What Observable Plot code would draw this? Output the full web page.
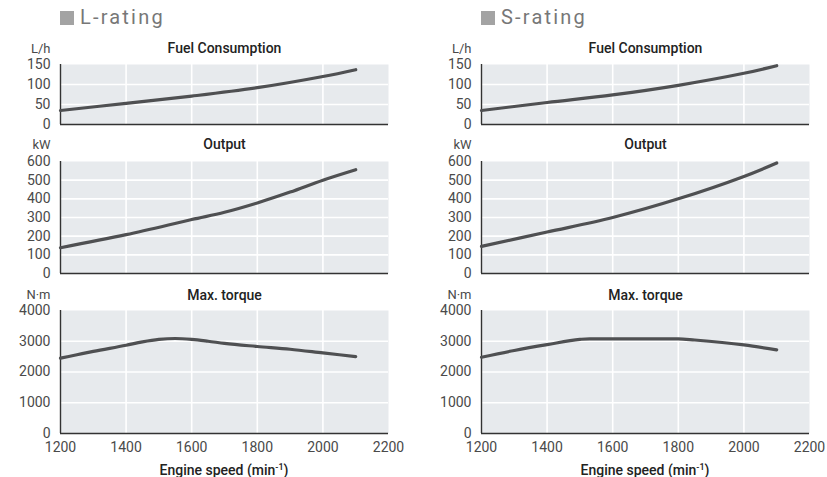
<!DOCTYPE html>
<html><head><meta charset="utf-8">
<script src="https://cdn.jsdelivr.net/npm/d3@7"></script>
<script src="https://cdn.jsdelivr.net/npm/@observablehq/plot@0.6"></script>
<style>
body{margin:0;background:#fff;}
#root{position:relative;width:827px;height:477px;overflow:hidden;font-family:Roboto, sans-serif;}
.abs{position:absolute;}
.rating{font-size:20px;letter-spacing:2.2px;color:#777;line-height:24px;white-space:nowrap;}
.sq{display:inline-block;width:14px;height:14px;background:#a3a3a3;margin-right:6px;vertical-align:-1px;}
.xlab{font-size:14px;font-weight:500;color:#222;text-align:center;line-height:18px;white-space:nowrap;}
.xlab sup{font-size:9px;vertical-align:5px;line-height:0;}
</style></head><body><div id="root"></div>
<script>
// ---- data ----
const ratings = ["L-rating", "S-rating"];
const panelTitles = ["Fuel Consumption", "Output", "Max. torque"];
const units = ["L/h", "kW", "N·m"];
const rpmTicks = [1200, 1400, 1600, 1800, 2000, 2200];
const fuelTicks = [0, 50, 100, 150];
const outputTicks = [0, 100, 200, 300, 400, 500, 600];
const torqueTicks = [0, 1000, 2000, 3000, 4000];
const xAxisLabel = "Engine speed (min";

const fuelRpmL = [1200, 1400, 1600, 1800, 2000, 2100];
const fuelL = [35, 53, 71, 92, 120, 137];
const outputRpmL = [1200, 1400, 1600, 1700, 1800, 1900, 2000, 2100];
const outputL = [138, 208, 289, 328, 378, 436, 500, 556];
const torqueRpmL = [1200, 1250, 1300, 1400, 1450, 1500, 1550, 1600, 1650, 1700, 1800, 1900, 2000, 2100];
const torqueL = [2450, 2560, 2670, 2870, 2980, 3060, 3090, 3060, 3000, 2930, 2830, 2740, 2620, 2500];

const fuelRpmS = [1200, 1400, 1600, 1800, 2000, 2100];
const fuelS = [35, 55, 74, 98, 128, 147];
const outputRpmS = [1200, 1400, 1600, 1800, 2000, 2100];
const outputS = [145, 222, 300, 400, 520, 592];
const torqueRpmS = [1200, 1300, 1400, 1500, 1530, 1800, 1850, 2000, 2100];
const torqueS = [2480, 2700, 2890, 3060, 3080, 3080, 3040, 2880, 2720];

// ---- layout ----
const root = document.getElementById("root");
const cols = [
  {left: 0, width: 413, ml: 60, mr: 25},
  {left: 420, width: 407, ml: 61, mr: 18}
];
const rows = [
  {top: 40, mt: 24, ph: 60, mb: 10, ticks: fuelTicks, dom: [0, 150], tdy: -16, udy: -16, curve: "catmull-rom"},
  {top: 130, mt: 31, ph: 112, mb: 10, ticks: outputTicks, dom: [0, 600], tdy: -17, udy: -17, curve: "catmull-rom"},
  {top: 280, mt: 30, ph: 123, mb: 44, ticks: torqueTicks, dom: [0, 4000], tdy: -15, udy: -15.5, curve: "monotone-x"}
];
const series = [
  [[fuelRpmL, fuelL], [outputRpmL, outputL], [torqueRpmL, torqueL]],
  [[fuelRpmS, fuelS], [outputRpmS, outputS], [torqueRpmS, torqueS]]
];

cols.forEach((c, ci) => {
  const t = document.createElement("div");
  t.className = "abs rating";
  t.style.left = (c.left + c.ml) + "px";
  t.style.top = "5px";
  t.innerHTML = '<span class="sq"></span>' + ratings[ci];
  root.appendChild(t);

  rows.forEach((r, ri) => {
    const [xs, ys] = series[ci][ri];
    const data = xs.map((x, i) => ({x, y: ys[i]}));
    const isBottom = ri === 2;
    const chart = Plot.plot({
      width: c.width,
      height: r.mt + r.ph + r.mb,
      marginLeft: c.ml, marginRight: c.mr, marginTop: r.mt, marginBottom: r.mb,
      style: {fontFamily: "Roboto, sans-serif", fontSize: "14px", color: "#4a4a4a", background: "transparent", overflow: "visible"},
      x: {domain: [1200, 2200], ticks: rpmTicks, axis: isBottom ? "bottom" : null, tickSize: 0, tickPadding: 9, tickFormat: d => String(d), label: null},
      y: {domain: r.dom, ticks: r.ticks, tickSize: 0, tickPadding: 10, tickFormat: d => String(d), label: null},
      marks: [
        Plot.frame({fill: "#e7eaed", stroke: null}),
        Plot.gridX(rpmTicks.slice(1, -1), {stroke: "#fff", strokeOpacity: 1, strokeWidth: 1.6}),
        Plot.gridY(r.ticks.slice(1, -1), {stroke: "#fff", strokeOpacity: 1, strokeWidth: 1.6}),
        Plot.ruleY([r.dom[0]], {stroke: "#333", strokeWidth: 1.4}),
        Plot.ruleX([1200], {stroke: "#333", strokeWidth: 1.4}),
        Plot.line(data, {x: "x", y: "y", stroke: "#4f5052", strokeWidth: 3.2, curve: r.curve}),
        Plot.text([panelTitles[ri]], {frameAnchor: "top", lineAnchor: "middle", dy: r.tdy, fontSize: 14, fontWeight: 500, fill: "#222"}),
        Plot.text([units[ri]], {frameAnchor: "top-left", lineAnchor: "middle", textAnchor: "end", dx: -10, dy: r.udy, fontSize: 13, fill: "#4a4a4a"})
      ]
    });
    chart.style.position = "absolute";
    chart.style.left = c.left + "px";
    chart.style.top = r.top + "px";
    root.appendChild(chart);
  });

  const xl = document.createElement("div");
  xl.className = "abs xlab";
  xl.style.left = (c.left + c.ml) + "px";
  xl.style.width = (c.width - c.ml - c.mr) + "px";
  xl.style.top = "461px";
  xl.innerHTML = xAxisLabel + "<sup>-1</sup>)";
  root.appendChild(xl);
});
</script>
</body></html>
